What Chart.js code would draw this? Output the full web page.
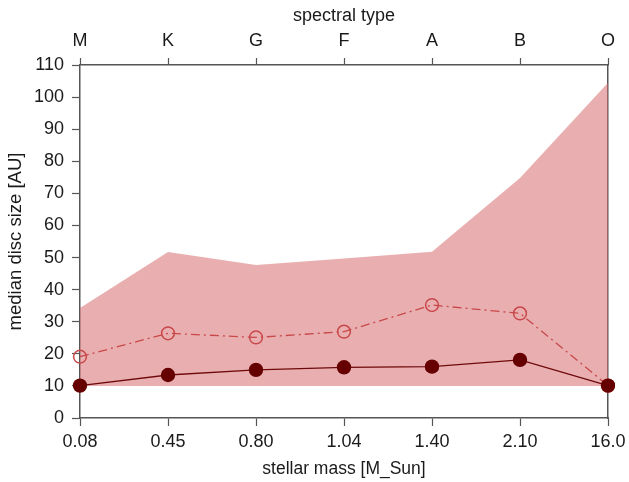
<!DOCTYPE html>
<html>
<head>
<meta charset="utf-8">
<script src="https://cdn.jsdelivr.net/npm/chart.js@4"></script>
<style>
  html, body { margin: 0; padding: 0; background: #fff; }
  #wrap { width: 629px; height: 482px; }
</style>
</head>
<body>
<div id="wrap"><canvas id="chart" width="629" height="482"></canvas></div>
<script>
// data
const massLabels = ["0.08", "0.45", "0.80", "1.04", "1.40", "2.10", "16.0"];
const spectralTypes = ["M", "K", "G", "F", "A", "B", "O"];
const upperBound = [34.3, 51.7, 47.7, 49.7, 51.8, 74.8, 104.5];
const lowerBound = [10, 10, 10, 10, 10, 10, 10];
const medianSize = [10.1, 13.4, 15.0, 15.8, 16.0, 18.1, 10.1];
const openSeries = [19.1, 26.4, 25.1, 26.9, 35.2, 32.6, 10.1];
const yTicks = [0, 10, 20, 30, 40, 50, 60, 70, 80, 90, 100, 110];

const family = "'Liberation Sans', Arial, sans-serif";
const tickFont = { family: family, size: 18 };
const titleFont = { family: family, size: 17.5 };
const axisColor = "#555";
const textColor = "#1a1a1a";

// force the axis boxes so the plot area lands where the reference has it
function fixedWidth(w) { return function (axis) { axis.width = w; }; }
function fixedHeight(h) { return function (axis) { axis.height = h; }; }

new Chart(document.getElementById("chart"), {
    type: "line",
    data: {
        labels: massLabels,
        datasets: [
            {
                label: "lower",
                data: lowerBound,
                borderWidth: 0,
                pointRadius: 0,
                fill: false,
                order: 3,
            },
            {
                label: "range",
                data: upperBound,
                borderWidth: 0,
                pointRadius: 0,
                backgroundColor: "rgba(215, 110, 112, 0.55)",
                fill: "-1",
                order: 2,
            },
            {
                label: "open",
                data: openSeries,
                borderColor: "#c8484a",
                borderWidth: 1.3,
                borderDash: [9, 4, 2, 4],
                pointRadius: 6.4,
                pointBorderWidth: 1.5,
                pointBorderColor: "#c8484a",
                pointBackgroundColor: "rgba(0,0,0,0)",
                fill: false,
                order: 1,
            },
            {
                label: "median",
                data: medianSize,
                borderColor: "#6e0a0c",
                borderWidth: 1.3,
                pointRadius: 7.2,
                pointBorderWidth: 0,
                pointBackgroundColor: "#660000",
                fill: false,
                order: 0,
            },
        ],
    },
    options: {
        responsive: false,
        animation: false,
        layout: { padding: 0 },
        plugins: {
            legend: { display: false },
            tooltip: { enabled: false },
            filler: { drawTime: "beforeDatasetsDraw" },
        },
        scales: {
            x: {
                type: "category",
                position: "bottom",
                offset: false,
                afterFit: fixedHeight(64),
                border: { display: true, color: axisColor, width: 1.5 },
                grid: { drawOnChartArea: true, color: "rgba(255,255,255,0.2)", tickColor: axisColor, tickLength: 8, tickWidth: 1.2 },
                // taller line height pushes the labels down without widening the side padding
                ticks: { color: textColor, font: { family: family, size: 18, lineHeight: 1.45 }, padding: 3, maxRotation: 0, autoSkip: false },
                title: { display: true, text: "stellar mass [M_Sun]", color: textColor, font: titleFont, padding: { top: 0, bottom: 2 } },
            },
            x2: {
                type: "category",
                position: "top",
                labels: spectralTypes,
                offset: false,
                afterFit: fixedHeight(65),
                border: { display: true, color: axisColor, width: 1.5 },
                grid: { drawOnChartArea: false, tickColor: axisColor, tickLength: 7, tickWidth: 1.2 },
                ticks: { color: textColor, font: { family: family, size: 18, lineHeight: 1.6 }, padding: 3, maxRotation: 0, autoSkip: false },
                title: { display: true, text: "spectral type", color: textColor, font: { family: family, size: 18 }, padding: { top: 5, bottom: 0 } },
            },
            y: {
                type: "linear",
                position: "left",
                min: 0,
                max: 110,
                afterFit: fixedWidth(80),
                afterBuildTicks: function (axis) { axis.ticks = yTicks.map(v => ({ value: v })); },
                border: { display: true, color: axisColor, width: 1.5 },
                grid: { drawOnChartArea: false, tickColor: axisColor, tickLength: 8, tickWidth: 1.2 },
                ticks: { color: textColor, font: tickFont, padding: 8 },
                title: { display: true, text: "median disc size [AU]", color: textColor, font: { family: family, size: 18.5 }, padding: { top: 5, bottom: 2 } },
            },
            y2: {
                type: "linear",
                position: "right",
                min: 0,
                max: 110,
                afterFit: fixedWidth(21),
                border: { display: true, color: axisColor, width: 1.5 },
                grid: { drawOnChartArea: false, drawTicks: false },
                ticks: { display: false },
            },
        },
    },
});
</script>
</body>
</html>
